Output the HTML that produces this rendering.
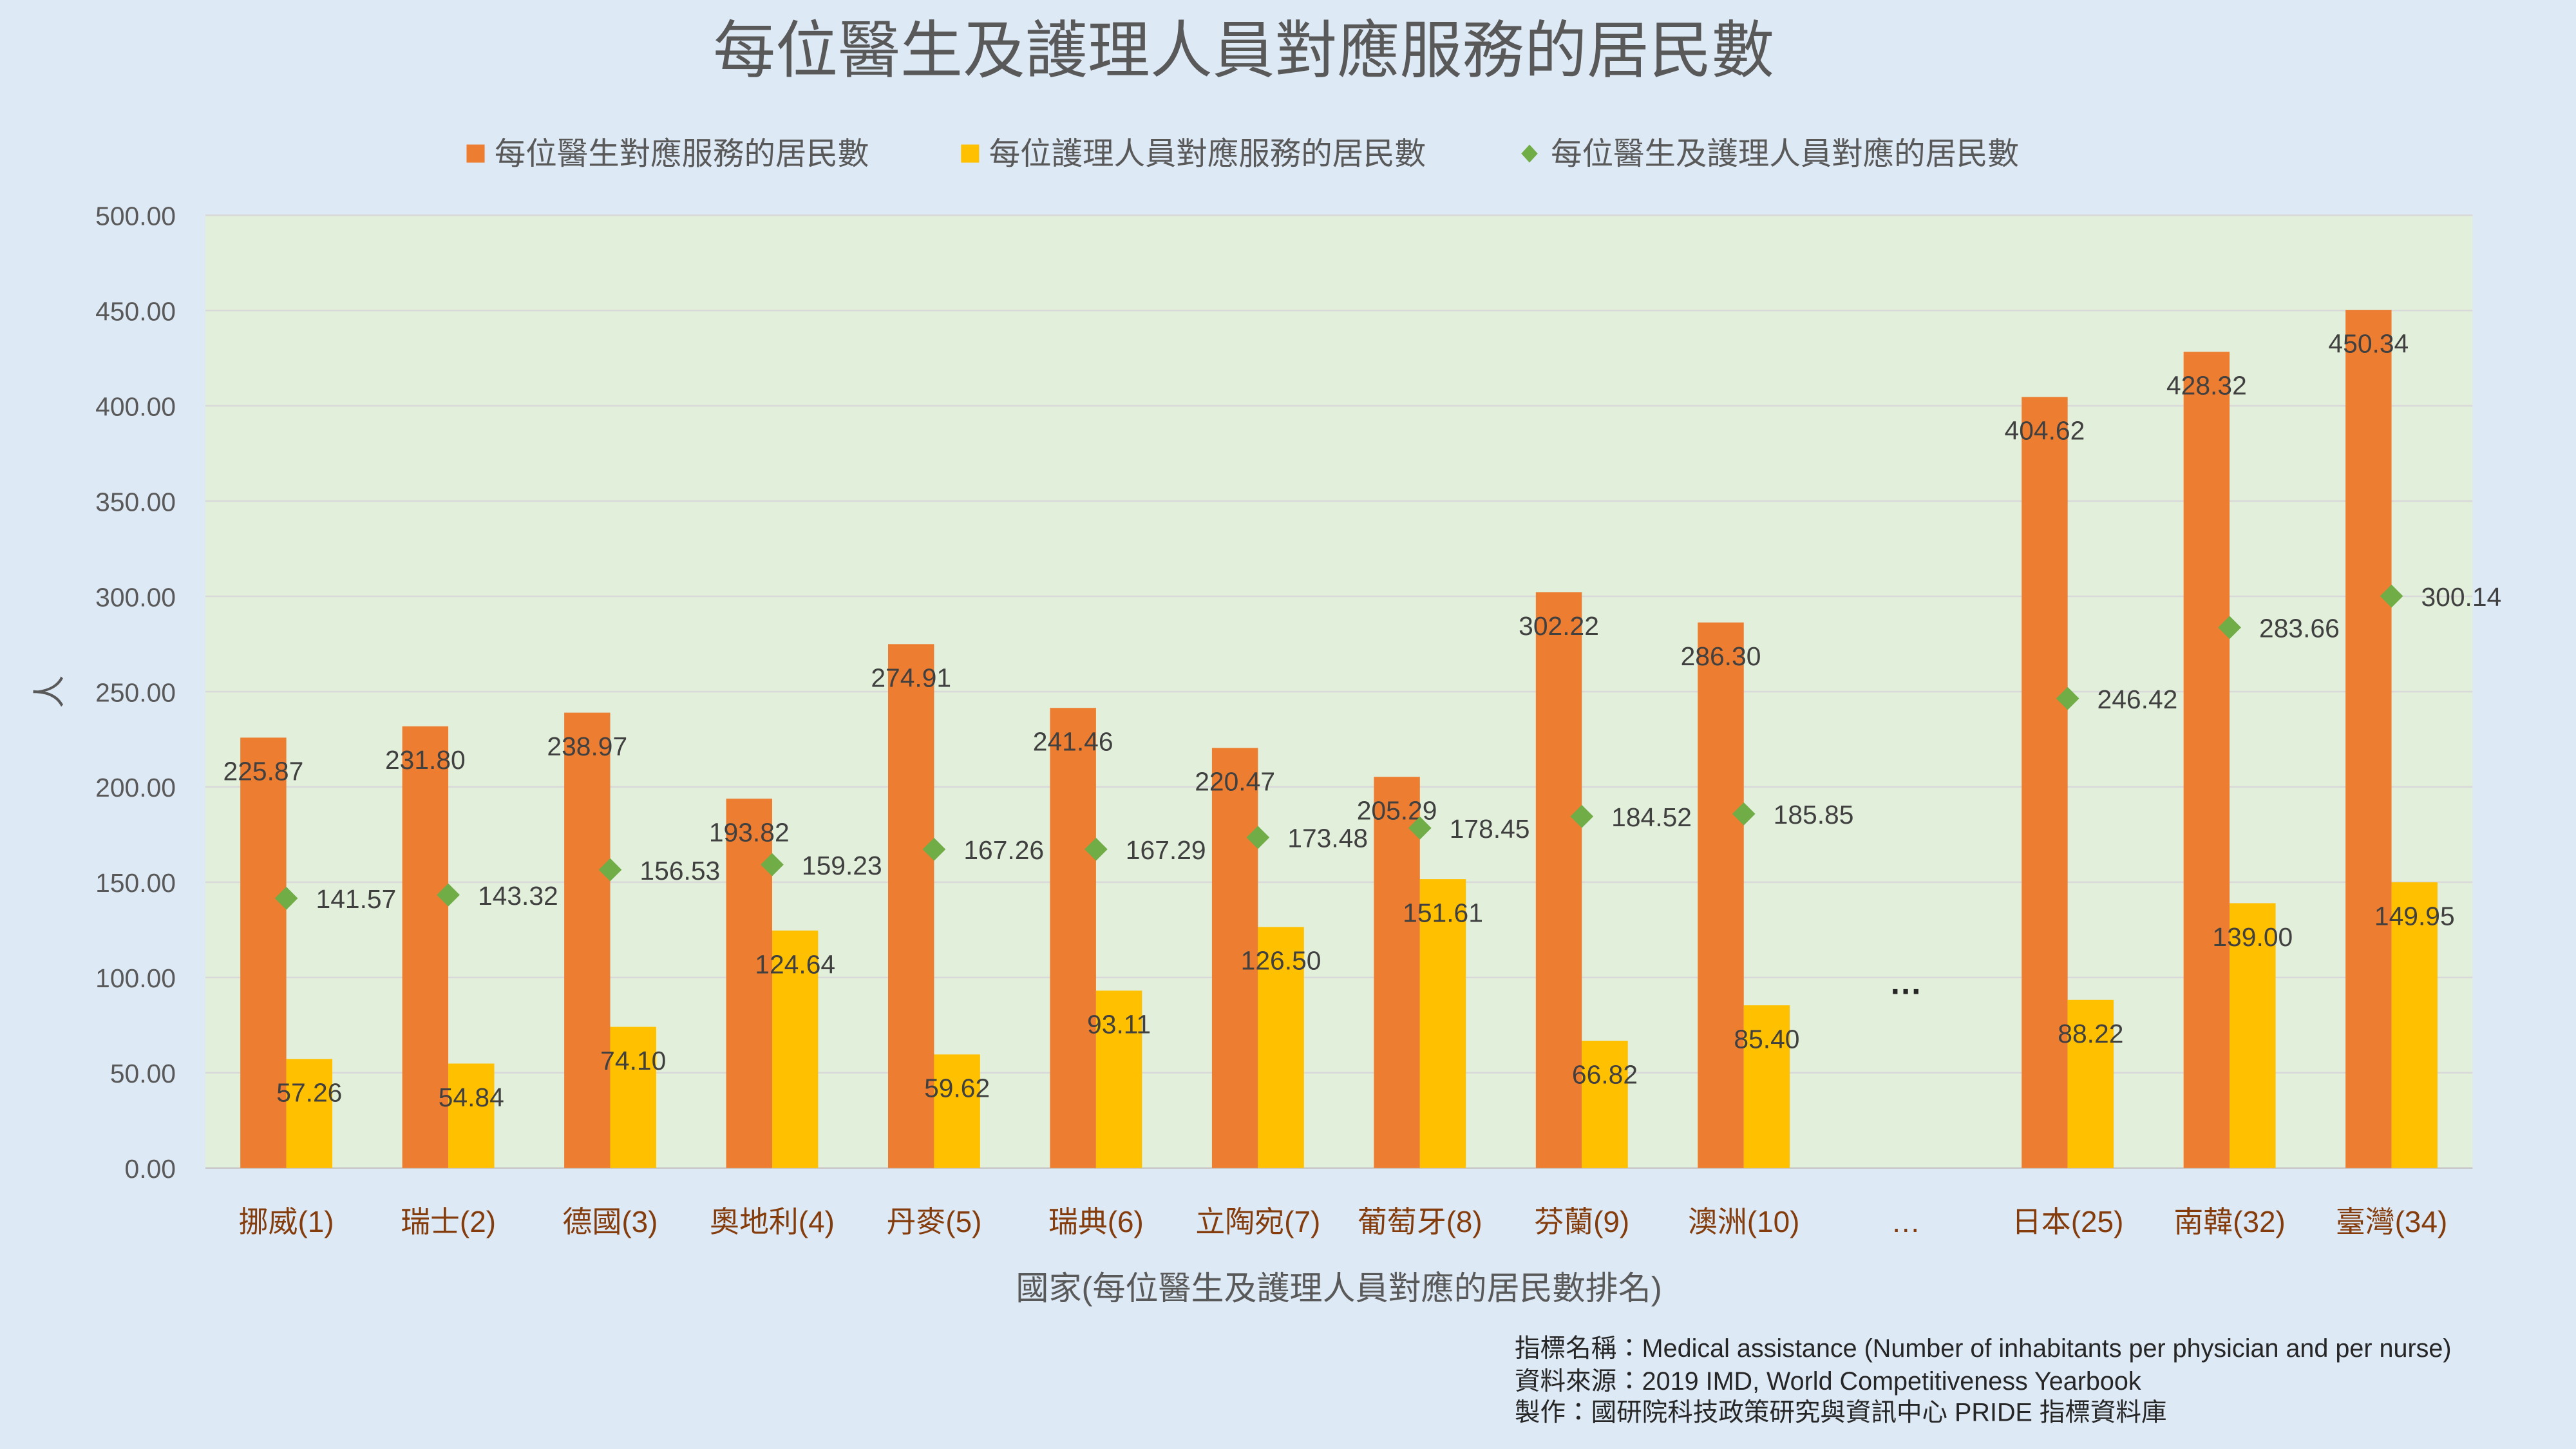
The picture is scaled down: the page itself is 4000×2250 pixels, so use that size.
<!DOCTYPE html>
<html><head><meta charset="utf-8"><style>
html,body{margin:0;padding:0;background:#dde9f5;}
svg{display:block;}
text{font-family:"Liberation Sans","Noto Sans CJK TC",sans-serif;}
</style></head><body>
<svg id="chart" width="4000" height="2250" viewBox="0 0 1568 882" preserveAspectRatio="none" xmlns="http://www.w3.org/2000/svg">
<rect width="1568" height="882" fill="#dde9f5"/>
<text x="757" y="44" text-anchor="middle" font-size="38" fill="#595959">每位醫生及護理人員對應服務的居民數</text>
<g font-size="19" fill="#595959">
<g><rect x="284" y="88" width="11" height="11" fill="#ed7d31"/><text x="301" y="100">每位醫生對應服務的居民數</text></g>
<g><rect x="585" y="88" width="11" height="11" fill="#ffc000"/><text x="602" y="100">每位護理人員對應服務的居民數</text></g>
<g><path d="M931 88 L936 93.5 L931 99 L926 93.5Z" fill="#70ad47"/><text x="944" y="100">每位醫生及護理人員對應的居民數</text></g>
</g>
<rect x="125" y="131" width="1380" height="580" fill="#e2efda"/>
<g id="grid"></g>
<g id="yticks" font-size="16" fill="#595959" text-anchor="end"></g>
<g id="marks"></g>
<g id="xlabels" font-size="18" fill="#843c0c" text-anchor="middle"></g>
<text x="815" y="791" text-anchor="middle" font-size="20" fill="#595959">國家(每位醫生及護理人員對應的居民數排名)</text>
<text transform="translate(37,421) rotate(-90)" text-anchor="middle" font-size="20" fill="#595959">人</text>
<g font-size="15.5" fill="#262626">
<text x="922" y="826">指標名稱：Medical assistance (Number of inhabitants per physician and per nurse)</text>
<text x="922" y="846">資料來源：2019 IMD, World Competitiveness Yearbook</text>
<text x="922" y="865">製作：國研院科技政策研究與資訊中心 PRIDE 指標資料庫</text>
</g>
</svg>
<script>
const categories=["挪威(1)","瑞士(2)","德國(3)","奧地利(4)","丹麥(5)","瑞典(6)","立陶宛(7)","葡萄牙(8)","芬蘭(9)","澳洲(10)","…","日本(25)","南韓(32)","臺灣(34)"];
const doctors=[225.87,231.80,238.97,193.82,274.91,241.46,220.47,205.29,302.22,286.30,null,404.62,428.32,450.34];
const nurses=[57.26,54.84,74.10,124.64,59.62,93.11,126.50,151.61,66.82,85.40,null,88.22,139.00,149.95];
const combined=[141.57,143.32,156.53,159.23,167.26,167.29,173.48,178.45,184.52,185.85,null,246.42,283.66,300.14];
const yTicks=[0,50,100,150,200,250,300,350,400,450,500];
const NS="http://www.w3.org/2000/svg";
const X0=125,X1=1505,Y0=711,Y1=131,YMAX=500;
const slot=(X1-X0)/categories.length;
const y=v=>Y0-(v/YMAX)*(Y0-Y1);
const xc=i=>X0+slot*(i+0.5);
const bw=28;
function mk(tag,attrs,parent){const e=document.createElementNS(NS,tag);for(const k in attrs)e.setAttribute(k,attrs[k]);parent.appendChild(e);return e;}
const grid=document.getElementById('grid'),yt=document.getElementById('yticks'),marks=document.getElementById('marks'),xl=document.getElementById('xlabels');
yTicks.forEach(t=>{
 const l=mk('line',{x1:X0,x2:X1,y1:y(t),y2:y(t),stroke:t===0?'#c9c9c9':'#d9d9d9','stroke-width':1},grid);
 
 
 const tx=mk('text',{x:107,y:y(t)+6},yt);tx.textContent=t.toFixed(2);
 
 
});
categories.forEach((c,i)=>{
 const cx=xc(i);
 const lab=mk('text',{x:cx,y:750},xl);lab.textContent=c;
 
 
 if(doctors[i]==null){
  const d=mk('text',{x:cx,y:605,'text-anchor':'middle','font-size':20,fill:'#262626','font-weight':'bold'},marks);d.textContent='…';
  
  
  return;
 }
 const b1=mk('rect',{x:cx-bw,y:y(doctors[i]),width:bw,height:Y0-y(doctors[i]),fill:'#ed7d31'},marks);
 
 
 const b2=mk('rect',{x:cx,y:y(nurses[i]),width:bw,height:Y0-y(nurses[i]),fill:'#ffc000'},marks);
 
 
 const t1=mk('text',{x:cx-bw/2,y:y(doctors[i])+26,'text-anchor':'middle','font-size':16,fill:'#404040'},marks);t1.textContent=doctors[i].toFixed(2);
 
 
 const t2=mk('text',{x:cx+bw/2,y:y(nurses[i])+26,'text-anchor':'middle','font-size':16,fill:'#404040'},marks);t2.textContent=nurses[i].toFixed(2);
 
 
 const py=y(combined[i]);
 const p=mk('path',{d:`M${cx} ${py-7} L${cx+7} ${py} L${cx} ${py+7} L${cx-7} ${py}Z`,fill:'#70ad47'},marks);
 
 
 const t3=mk('text',{x:cx+18,y:py+6,'font-size':16,fill:'#404040'},marks);t3.textContent=combined[i].toFixed(2);
 
 
});
</script>
</body></html>
